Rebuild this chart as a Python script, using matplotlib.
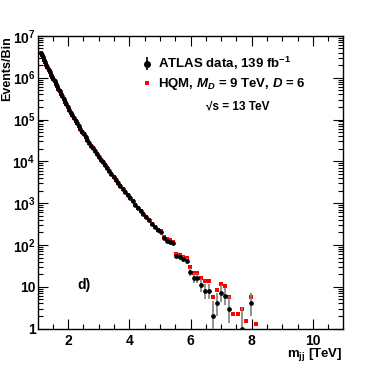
import numpy as np
import matplotlib
matplotlib.use("Agg")
import matplotlib.pyplot as plt
from matplotlib.ticker import FixedLocator, LogLocator, FuncFormatter, NullFormatter
from matplotlib.lines import Line2D

plt.rcParams['font.family'] = ['Liberation Sans', 'DejaVu Sans']
plt.rcParams['font.weight'] = 'bold'
plt.rcParams['mathtext.fontset'] = 'custom'
plt.rcParams['mathtext.rm'] = 'Liberation Sans:bold'
plt.rcParams['mathtext.it'] = 'Liberation Sans:bold:italic'
plt.rcParams['mathtext.bf'] = 'Liberation Sans:bold'

# bin edges of m_jj (TeV)
mjj_edges = [1.100, 1.133, 1.166, 1.200, 1.234, 1.269, 1.305, 1.341, 1.378, 1.416,
             1.454, 1.493, 1.533, 1.573, 1.614, 1.656, 1.698, 1.741, 1.785, 1.830,
             1.875, 1.921, 1.968, 2.016, 2.065, 2.114, 2.164, 2.215, 2.267, 2.320,
             2.374, 2.429, 2.485, 2.542, 2.600, 2.659, 2.719, 2.780, 2.842, 2.905,
             2.969, 3.034, 3.100, 3.167, 3.235, 3.305, 3.376, 3.448, 3.521, 3.596,
             3.672, 3.749, 3.827, 3.907, 3.988, 4.070, 4.154, 4.239, 4.326, 4.414,
             4.504, 4.595, 4.688, 4.782, 4.878, 4.975, 5.074, 5.175, 5.277, 5.381,
             5.487, 5.595, 5.705, 5.817, 5.931, 6.047, 6.165, 6.285, 6.407, 6.531,
             6.658, 6.787, 6.918, 7.052, 7.188, 7.326, 7.467, 7.610, 7.756, 7.904,
             8.055, 8.208]

# ATLAS data, events per bin
data_counts = [3980000, 3490000, 3060000, 2670000, 2330000, 2050000, 1790000, 1570000,
               1370000, 1190000, 1050000, 925000, 812000, 712000, 621000, 541000,
               471000, 410000, 356000, 308000, 267000, 230000, 198000, 169000, 145000,
               126000, 109000, 94700, 81600, 70200, 60200, 51500, 44000, 37400, 32200,
               27800, 23900, 20600, 17600, 15100, 12900, 11000, 9480, 8110, 6920,
               5890, 4990, 4230, 3560, 3020, 2570, 2180, 1840, 1550, 1310, 1100, 925,
               780, 655, 548, 457, 386, 325, 273, 229, 200, 145, 126, 120, 110, 55,
               51, 47, 42, 23, 16, 16, 11, 8, 8, 2, 4, 7, 6, 3, 0, 0, 1, 0, 4, 0]

# HQM prediction (M_D = 9 TeV, D = 6): follows the data below 5 TeV
hqm_tail = [215, 158, 136, 130, 118, 62, 57, 52, 48, 30, 22, 22, 16.6, 13.8, 13.8,
            5.8, 8.4, 11.5, 10.5, 5.8, 2.3, 2.2, 2.9, 1.55, 5.6, 1.3]
hqm_values = data_counts[:65] + hqm_tail

edges = np.array(mjj_edges)
centres = 0.5 * (edges[1:] + edges[:-1])
n = np.array(data_counts, dtype=float)
hqm = np.array(hqm_values, dtype=float)

fig = plt.figure(figsize=(3.82, 3.66), dpi=100)
ax = fig.add_axes([0.100, 0.102, 0.799, 0.800])

ax.plot(centres, hqm, 's', color='#ff0000', ms=3.0, mew=0, zorder=2)

ok = n > 0
err_lo = np.sqrt(n[ok] - 0.25)
err_hi = np.sqrt(n[ok] + 0.75) + 1.0
ax.errorbar(centres[ok], n[ok], yerr=[err_lo, err_hi], fmt='none',
            ecolor='#808080', elinewidth=1.2, zorder=3)
ax.plot(centres[ok], n[ok], 'o', color='black', ms=3.4, mew=0, zorder=4)

ax.set_yscale('log')
ax.set_xlim(1.02, 11.0)
ax.set_ylim(1, 1e7)

ax.xaxis.set_major_locator(FixedLocator([2, 4, 6, 8, 10]))
ax.xaxis.set_minor_locator(FixedLocator(np.arange(1.5, 11.0, 0.5)))
ax.yaxis.set_major_locator(LogLocator(base=10, numticks=12))
ax.yaxis.set_minor_locator(LogLocator(base=10, subs=np.arange(2, 10), numticks=12))
ax.yaxis.set_minor_formatter(NullFormatter())


def ylab(v, pos):
    if v == 1:
        return '1'
    if v == 10:
        return '10'
    return r'$\mathregular{10^{%d}}$' % int(round(np.log10(v)))


ax.yaxis.set_major_formatter(FuncFormatter(ylab))
ax.tick_params(which='both', direction='in', top=True, right=True, labelsize=10, width=0.8)
ax.tick_params(which='major', length=7)
ax.tick_params(which='minor', length=3.5)
ax.tick_params(axis='x', pad=3.5)
ax.tick_params(axis='y', pad=2)
for s in ax.spines.values():
    s.set_linewidth(1.0)
for lab in ax.get_xticklabels() + ax.get_yticklabels():
    lab.set_fontweight('bold')

fig.text(7 / 382, 1 - 36 / 366, 'Events/Bin', rotation=90, ha='center', va='top',
         fontsize=9, fontweight='bold')
fig.text(343 / 382, 1 - 356.5 / 366, r'm$_{\mathregular{jj}}$ [TeV]', ha='right', va='baseline',
         fontsize=9.5, fontweight='bold')

h_data = ax.errorbar([], [], yerr=[], fmt='o', color='black', ms=4, ecolor='black', elinewidth=1.2)
h_hqm = Line2D([], [], marker='s', ls='none', color='#ff0000', ms=3.5, mew=0)
leg = ax.legend([h_data, h_hqm],
                [r'ATLAS data, 139 fb$^{\mathregular{-1}}$', r'HQM, $M_D$ = 9 TeV, $D$ = 6'],
                loc='upper left', bbox_to_anchor=(140 / 382, 1 - 55 / 366),
                bbox_transform=fig.transFigure, frameon=False, fontsize=9.5,
                handlelength=1.0, handletextpad=0.4, labelspacing=0.3, borderpad=0,
                borderaxespad=0)
for t in leg.get_texts():
    t.set_fontweight('bold')

fig.text(238 / 382, 1 - 107 / 366, '\u221as = 13 TeV', ha='center', va='center',
         fontsize=8.5, fontweight='bold')
ax.text(84 / 382, 1 - 285 / 366, 'd)', transform=fig.transFigure, ha='center', va='center',
        fontsize=10, fontweight='bold')

fig.savefig('out.png', dpi=100)
